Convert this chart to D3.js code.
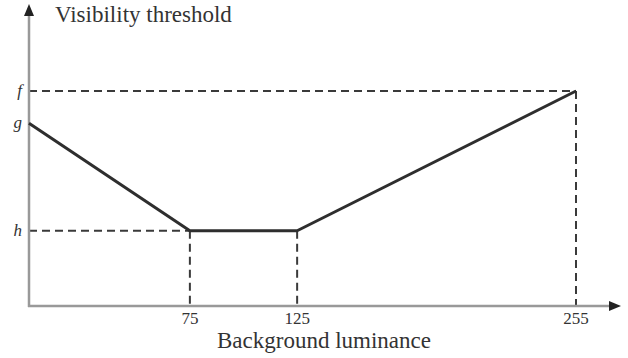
<!DOCTYPE html>
<html><head><meta charset="utf-8">
<script src="https://cdn.jsdelivr.net/npm/d3@7"></script>
<style>body{margin:0;background:#fff}svg{display:block}</style>
</head><body>
<script>
const luminance = [0, 75, 125, 255];
const threshold = [0.85, 0.35, 0.35, 1.0];
const xTickValues = [75, 125, 255];
const xTickLabels = ["75", "125", "255"];
const yTickValues = [1.0, 0.85, 0.35];
const yTickLabels = ["f", "g", "h"];
const xTitle = "Background luminance";
const yTitle = "Visibility threshold";

const W = 628, H = 358;
const svg = d3.select("body").append("svg").attr("width", W).attr("height", H);
const x = d3.scaleLinear().domain([0, 255]).range([29, 576]);
const y = d3.scaleLinear().domain([0, 1]).range([306, 91]);
const font = "'Liberation Serif','Times New Roman',serif";
const axisCol = "#999", lineCol = "#2e2e2e", dashCol = "#3a3a3a";
const dash = "8,5";

const fIdx = 3;
svg.append("line").attr("x1", x(0)).attr("x2", x(luminance[fIdx])).attr("y1", y(threshold[fIdx])).attr("y2", y(threshold[fIdx]))
  .attr("stroke", dashCol).attr("stroke-width", 2).attr("stroke-dasharray", dash);
svg.append("line").attr("x1", x(0)).attr("x2", x(luminance[1])).attr("y1", y(threshold[1])).attr("y2", y(threshold[1]))
  .attr("stroke", dashCol).attr("stroke-width", 2).attr("stroke-dasharray", dash);
[1, 2, 3].forEach(i => {
  svg.append("line").attr("x1", x(luminance[i])).attr("x2", x(luminance[i])).attr("y1", y(threshold[i])).attr("y2", y(0))
    .attr("stroke", dashCol).attr("stroke-width", 2).attr("stroke-dasharray", dash);
});

// axes
svg.append("line").attr("x1", x(0)).attr("x2", x(0)).attr("y1", y(0) + 1).attr("y2", 14)
  .attr("stroke", axisCol).attr("stroke-width", 2.5);
svg.append("path").attr("d", `M${x(0)},4 L${x(0) - 5},16 L${x(0) + 5},16 Z`).attr("fill", "#222");
svg.append("line").attr("x1", x(0) - 1).attr("x2", 611).attr("y1", y(0)).attr("y2", y(0))
  .attr("stroke", axisCol).attr("stroke-width", 2.5);
svg.append("path").attr("d", `M621,${y(0)} L609,${y(0) - 5} L609,${y(0) + 5} Z`).attr("fill", "#222");

// data line
svg.append("path").datum(luminance.map((v, i) => [v, threshold[i]]))
  .attr("d", d3.line().x(d => x(d[0])).y(d => y(d[1])))
  .attr("fill", "none").attr("stroke", lineCol).attr("stroke-width", 3).attr("stroke-linejoin", "round");

// tick labels
svg.selectAll(".xt").data(xTickValues).enter().append("text")
  .attr("x", d => x(d)).attr("y", 324).attr("text-anchor", "middle")
  .attr("font-family", font).attr("font-size", 17).attr("fill", "#333")
  .text((d, i) => xTickLabels[i]);
svg.selectAll(".yt").data(yTickValues).enter().append("text")
  .attr("x", 22).attr("y", d => y(d) + 5).attr("text-anchor", "end")
  .attr("font-family", font).attr("font-size", 17).attr("font-style", "italic").attr("fill", "#333")
  .text((d, i) => yTickLabels[i]);

// titles
svg.append("text").attr("x", 324).attr("y", 348).attr("text-anchor", "middle")
  .attr("font-family", font).attr("font-size", 23).attr("fill", "#333").text(xTitle);
svg.append("text").attr("x", 55).attr("y", 22)
  .attr("font-family", font).attr("font-size", 23).attr("fill", "#333").text(yTitle);
</script>
</body></html>
